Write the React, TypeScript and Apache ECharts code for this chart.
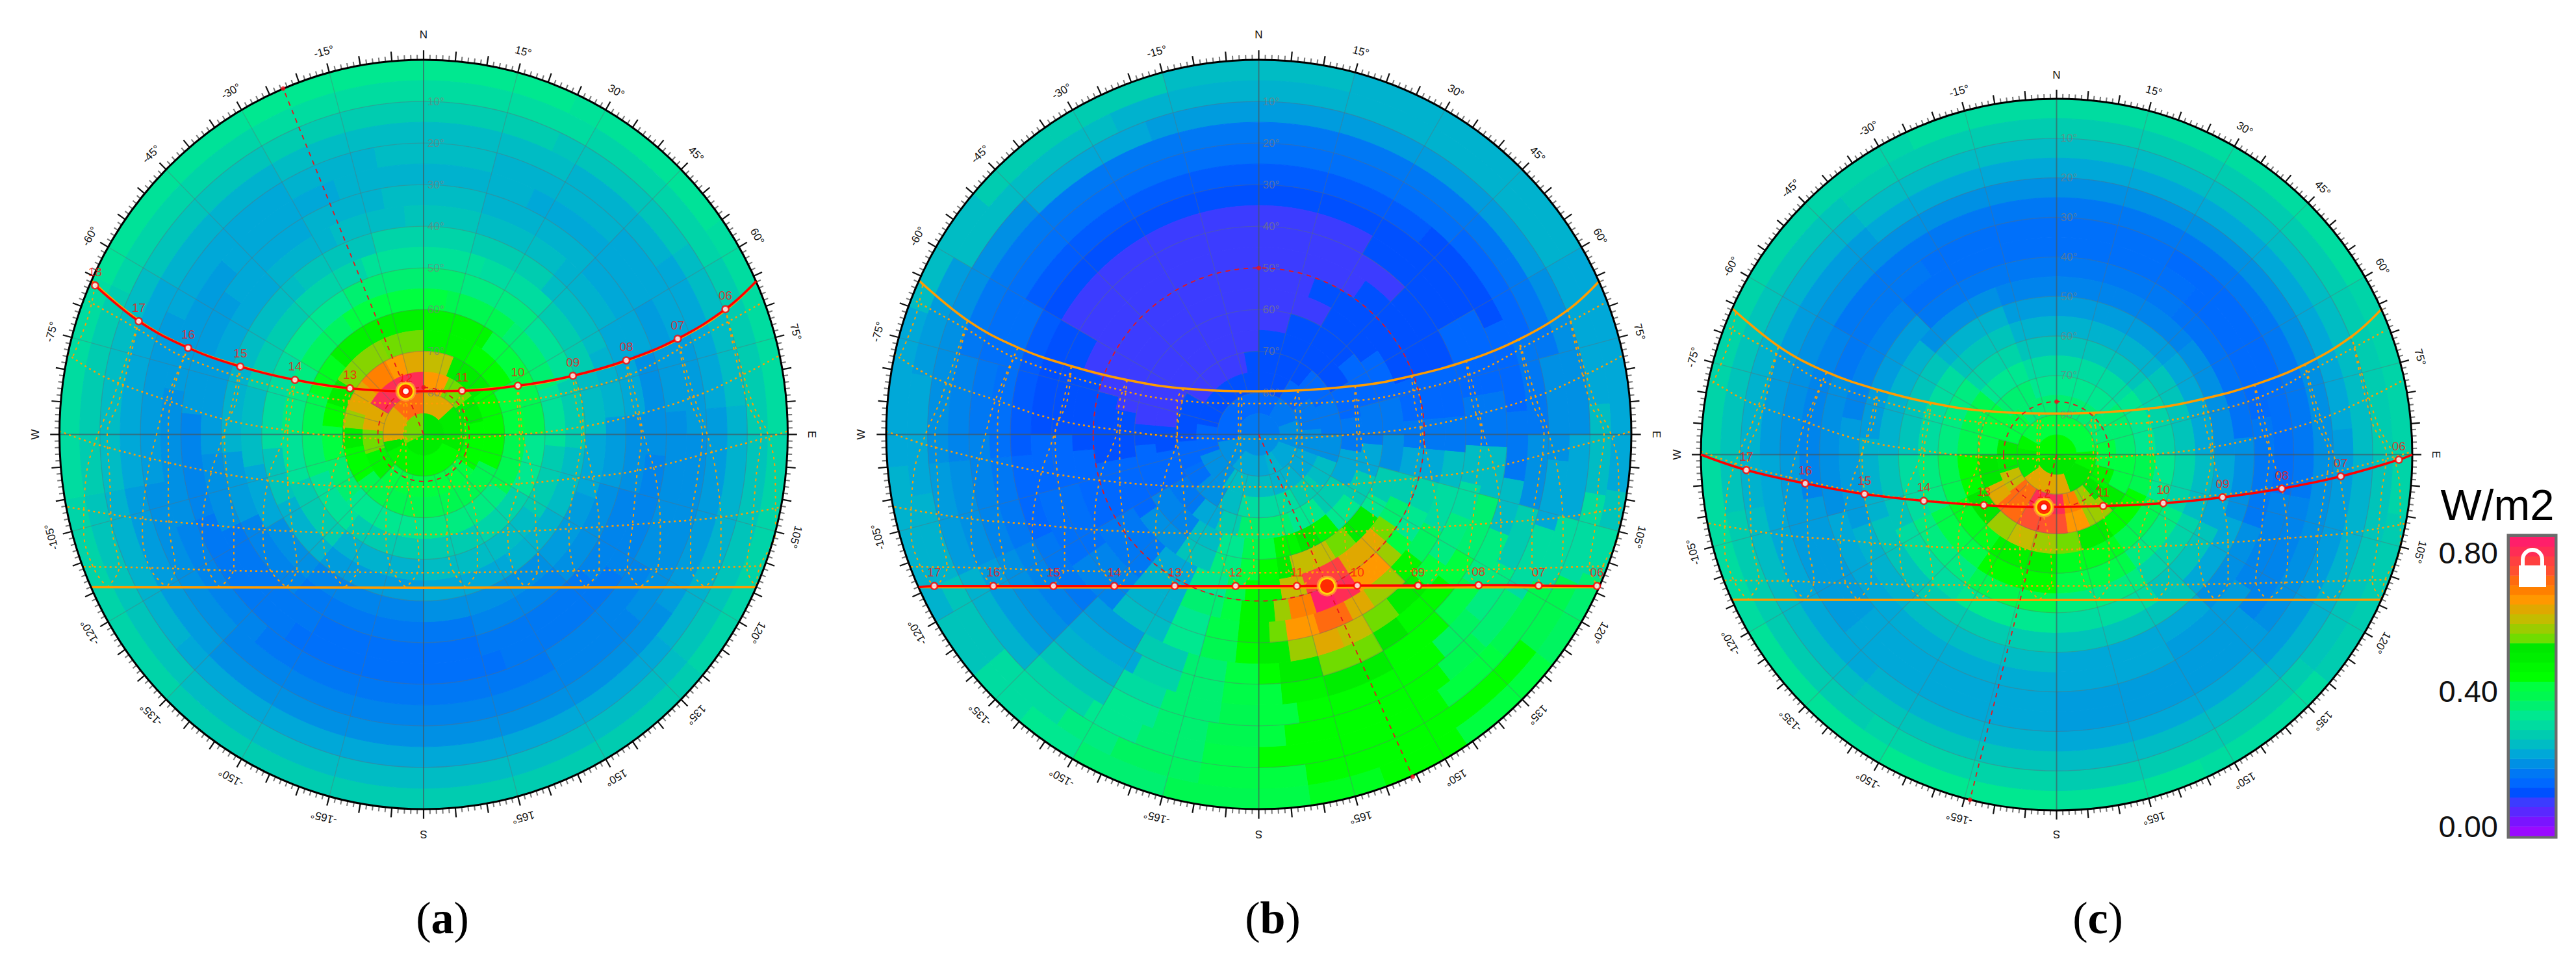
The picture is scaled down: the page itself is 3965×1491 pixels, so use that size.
import { useEffect, useRef } from 'react';
import * as echarts from 'echarts';

// colour scale of the W/m2 legend, bottom to top
const bandColors = ['#9a0aff', '#7a14ff', '#5a28ff', '#3c3cff', '#0050ff', '#0068ff', '#0078f4', '#0090e4', '#00a8d8', '#00bcc4', '#00ccb0', '#00dca0', '#00e890', '#00f070', '#00f850', '#00ff40', '#00ff00', '#00f800', '#00ee00', '#00e800', '#70dc00', '#9ccc00', '#c4bc00', '#e0a800', '#ff9800', '#ff8000', '#ff6a10', '#ff5030', '#ff4040', '#ff2d55', '#ff1f6a'];

type Run = [number, number]; // azimuth where the run starts, colour band (half steps allowed)

// one row per 5 degree altitude ring, from the horizon up
const heatA: Run[][] = [
  [[-180, 10], [-135, 10.5], [-100, 11], [-65, 11.5], [-30, 12], [25, 11.5], [55, 11], [90, 10.5], [130, 10]],
  [[-180, 9], [-135, 9.5], [-100, 10], [-65, 10.5], [-30, 11], [30, 10.5], [60, 10], [90, 9.5], [130, 9]],
  [[-180, 8], [-130, 8.5], [-100, 9], [-60, 9.5], [-30, 10], [25, 9.5], [55, 9], [85, 8.5], [130, 8]],
  [[-180, 7], [-135, 7.5], [-100, 8], [-60, 8.5], [-30, 9], [30, 8.5], [55, 8], [85, 7.5], [125, 7]],
  [[-180, 6.5], [-135, 7], [-100, 7.5], [-65, 8], [-30, 8.5], [-10, 9], [15, 8.5], [45, 8], [70, 7.5], [90, 7], [130, 6.5]],
  [[-180, 6], [-140, 6.5], [-110, 7], [-80, 7.5], [-50, 8], [-20, 8.5], [25, 8], [60, 7.5], [85, 7], [120, 6.5], [150, 6]],
  [[-180, 5.5], [-145, 6], [-110, 6.5], [-85, 7.5], [-55, 8], [-30, 8.5], [-10, 9], [15, 8.5], [45, 8], [70, 7], [95, 6.5], [125, 6], [160, 5.5]],
  [[-180, 5.5], [-150, 6], [-115, 7], [-95, 7.5], [-70, 8], [-45, 8.5], [-25, 9], [-5, 9.5], [15, 9], [40, 8.5], [60, 8], [85, 7], [105, 6.5], [130, 6], [165, 5.5]],
  [[-180, 6], [-140, 6.5], [-115, 7.5], [-95, 8.5], [-70, 9], [-40, 9.5], [-15, 10.5], [15, 10], [40, 9], [65, 8.5], [85, 7.5], [105, 7], [135, 6.5], [165, 6]],
  [[-180, 6.5], [-140, 7], [-120, 8], [-100, 9], [-75, 10], [-45, 10.5], [-20, 11.5], [20, 11], [45, 10], [70, 9], [90, 8], [110, 7.5], [135, 7]],
  [[-180, 7.5], [-140, 8.5], [-115, 9.5], [-95, 11], [-60, 12], [-30, 13], [15, 12.5], [45, 11.5], [70, 10], [95, 9], [120, 8.5], [145, 8]],
  [[-180, 8.5], [-140, 10], [-110, 11.5], [-90, 12.5], [-60, 13.5], [-35, 15], [10, 14], [40, 13], [70, 11.5], [95, 10], [125, 9]],
  [[-180, 10], [-140, 11.5], [-110, 13], [-90, 14], [-70, 15.5], [-50, 17.5], [0, 17], [35, 15], [65, 14], [90, 12], [120, 10.5], [150, 10]],
  [[-180, 12], [-130, 13], [-105, 15], [-85, 16], [-72, 18], [-58, 20.5], [-25, 20], [0, 17], [30, 16], [60, 15], [90, 14], [125, 12.5]],
  [[-180, 14], [-125, 16], [-100, 18], [-85, 21], [-72, 23], [-50, 25], [-28, 24], [-15, 23], [0, 22], [22, 18], [55, 16], [115, 14]],
  [[-180, 15], [-135, 17], [-108, 20], [-85, 23], [-60, 29], [0, 24], [25, 20], [52, 18], [78, 16], [125, 15]],
  [[-180, 17], [-115, 19], [-100, 23], [-48, 26], [0, 23], [48, 18], [115, 16]],
  [[-180, 18], [-115, 20], [0, 19], [100, 18]],
];

const heatB: Run[][] = [
  [[-180, 14], [-165, 13], [-150, 12], [-140, 11], [-130, 9.5], [-120, 8.5], [-95, 8], [-70, 9], [-50, 10], [-35, 10], [-15, 9], [15, 8.5], [60, 8], [90, 8], [99, 9.5], [105, 11], [113, 13], [120, 13.5], [128, 15], [146, 16], [160, 15.5], [172, 14.5]],
  [[-180, 14.5], [-170, 13.5], [-155, 12.5], [-145, 11], [-130, 9.5], [-115, 8.5], [-100, 8], [-80, 7.5], [-60, 9], [-25, 8.5], [60, 8], [85, 9], [100, 11], [115, 14], [128, 16], [172, 15]],
  [[-180, 14.5], [-170, 13], [-158, 12], [-148, 10.5], [-135, 8.5], [-115, 7.5], [-95, 7], [-45, 8], [-20, 7.5], [60, 7], [90, 8], [105, 11], [118, 14], [132, 15], [145, 16]],
  [[-180, 14], [-170, 13], [-160, 12], [-150, 9.5], [-135, 7.5], [-115, 7], [-95, 6.5], [-75, 6], [55, 6], [75, 7], [95, 8], [108, 11], [122, 13], [133, 14], [142, 16], [175, 15]],
  [[-180, 14], [-172, 13], [-160, 11], [-150, 8.5], [-135, 7], [-115, 6.5], [-90, 6], [-75, 5.5], [45, 5], [70, 6], [90, 7], [105, 10], [118, 12.5], [130, 13.5], [140, 16], [172, 15]],
  [[-180, 14.5], [-172, 13], [-162, 10.5], [-152, 8], [-135, 6.5], [-115, 6], [-95, 5.5], [-60, 4.5], [40, 4], [65, 5], [85, 6], [100, 9], [112, 12.5], [125, 14.5], [135, 16], [150, 18], [165, 17], [175, 15]],
  [[-180, 15], [-172, 13], [-162, 10], [-150, 7.5], [-135, 6], [-115, 5], [-95, 4.5], [-60, 4], [60, 5], [80, 6], [93, 9], [105, 13], [120, 15], [128, 16.5], [143, 19], [150, 20], [165, 18], [175, 16]],
  [[-180, 16], [-174, 14], [-165, 12], [-155, 9], [-140, 6.5], [-125, 5.5], [-105, 5], [-90, 4], [-60, 3], [30, 4], [60, 5], [80, 6], [93, 9], [103, 11], [112, 12.5], [125, 15], [132, 18], [142, 20], [150, 22], [158, 23], [165, 21], [172, 18]],
  [[-180, 17], [-174, 14.5], [-165, 12], [-155, 8.5], [-140, 6.5], [-125, 5.5], [-105, 5], [-90, 4], [-60, 3], [30, 3], [45, 4], [70, 5], [85, 6], [95, 9], [105, 11], [118, 13.5], [128, 17], [135, 21], [146, 23], [153, 26], [163, 24], [172, 20], [177, 18]],
  [[-180, 17], [-174, 15], [-168, 13], [-155, 8.5], [-140, 6], [-120, 5], [-95, 4], [-70, 3], [35, 4], [70, 5], [85, 6], [95, 8], [105, 10.5], [115, 12], [125, 15], [130, 21], [135, 24], [147, 29], [155, 30], [162, 25], [170, 21], [175, 18]],
  [[-180, 16], [-175, 14], [-168, 12], [-155, 8], [-140, 6], [-120, 5], [-100, 4], [-75, 3], [20, 4], [70, 5], [85, 6], [95, 8], [105, 10], [115, 13], [124, 20], [130, 23], [147, 28], [163, 22], [172, 17]],
  [[-180, 15], [-172, 12.5], [-160, 9.5], [-145, 7], [-125, 5], [-100, 4], [-80, 3], [30, 4], [55, 5], [75, 6], [90, 7], [105, 10], [118, 12], [125, 18], [138, 20], [148, 22], [166, 18], [172, 16]],
  [[-180, 14], [-172, 12], [-160, 9], [-145, 6.5], [-120, 5], [-95, 4], [-85, 3], [15, 4], [50, 5], [75, 6], [95, 8], [110, 10], [125, 12], [140, 17], [150, 19], [160, 17], [172, 15]],
  [[-180, 13], [-168, 10], [-155, 8], [-140, 6], [-120, 5], [-100, 4], [-85, 3], [0, 4], [60, 5], [80, 6], [100, 8], [120, 10], [140, 12], [160, 13]],
  [[-180, 11], [-165, 9], [-150, 7], [-130, 5.5], [-115, 5], [-95, 4], [-60, 3], [-10, 4], [40, 5], [65, 6], [90, 7], [110, 9], [130, 10], [150, 11]],
  [[-180, 9], [-145, 7], [-110, 5], [-80, 4], [30, 5], [55, 6], [85, 7], [110, 8], [135, 8.5], [165, 9]],
  [[-180, 8], [-140, 7], [-100, 5], [30, 6], [70, 7], [110, 8], [145, 8.5], [165, 8]],
  [[-180, 7], [-90, 6], [90, 7]],
];

const heatC: Run[][] = [
  [[-180, 12], [-150, 11.5], [-120, 11], [-90, 10.5], [-25, 11], [25, 11], [60, 10.5], [100, 10], [130, 11], [155, 11.5]],
  [[-180, 10.5], [-145, 10], [-100, 9.5], [-40, 10], [90, 9.5], [130, 10]],
  [[-180, 9.5], [-140, 9], [-100, 8.5], [-40, 9], [90, 8.5], [135, 9]],
  [[-180, 8.5], [-140, 8], [-90, 7.5], [-40, 8], [85, 7.5], [135, 8]],
  [[-180, 8], [-130, 7.5], [-90, 7], [90, 7], [130, 7.5]],
  [[-180, 8], [-130, 7.5], [-100, 6.5], [-60, 6], [55, 6], [100, 6.5], [130, 7.5]],
  [[-180, 8.2], [-135, 8], [-105, 7], [-70, 6], [-35, 5.5], [30, 5.2], [70, 5.5], [100, 6.5], [125, 7.5], [150, 8]],
  [[-180, 9], [-135, 8.5], [-110, 7.5], [-80, 6.5], [-45, 5.5], [40, 5.2], [80, 6], [110, 7], [135, 8]],
  [[-180, 10], [-135, 9.5], [-110, 8.5], [-85, 7.5], [-45, 6], [40, 5.7], [85, 7], [110, 8], [135, 9.5]],
  [[-180, 12], [-145, 11], [-115, 9.5], [-90, 8.5], [-50, 7], [-20, 6.5], [20, 6.5], [50, 7], [90, 8], [115, 9.5], [145, 11]],
  [[-180, 14], [-145, 12.5], [-115, 11], [-90, 9.5], [-50, 8.5], [-20, 7.5], [20, 7.5], [50, 8], [90, 9], [115, 10.5], [145, 12.5]],
  [[-180, 16], [-145, 14.5], [-115, 12.5], [-90, 11], [-50, 9.5], [-20, 8.5], [20, 8.5], [50, 9.5], [90, 10.5], [115, 12.5], [145, 14.5]],
  [[-180, 17.5], [-145, 15.5], [-115, 14], [-90, 12.5], [-50, 10.5], [-20, 9.5], [20, 9.5], [50, 10.5], [90, 12], [115, 14], [145, 15.5]],
  [[-180, 21], [-165, 22], [-150, 21], [-135, 19], [-115, 16], [-90, 14], [-50, 12], [-20, 11], [20, 11], [50, 12], [90, 14], [115, 16], [145, 18], [165, 20]],
  [[-180, 27], [-150, 26], [-130, 23], [-115, 19], [-90, 15], [-50, 13], [-20, 12], [20, 12], [50, 13], [90, 15], [120, 18], [135, 21], [155, 24], [172, 27]],
  [[-180, 29], [-150, 26], [-128, 22], [-108, 18], [-75, 15], [-40, 13], [40, 13], [75, 15], [105, 17], [125, 19], [140, 21], [155, 25], [172, 29]],
  [[-180, 23], [-125, 18], [-80, 17], [-60, 15], [60, 15], [85, 17], [115, 19], [160, 23]],
  [[-180, 19], [-100, 16.5], [100, 19]],
];

// sky positions are east/north offsets in degrees from the zenith
const highHours = ['18', '17', '16', '15', '14', '13', '12', '11', '10', '09', '08', '07', '06'];
const sunPathA = [[-81.2, 35.8], [-70.4, 27.2], [-58.2, 20.8], [-45.3, 16.3], [-31.8, 13.1], [-18.2, 11.1], [-4.4, 10.4], [9.5, 10.5], [23.3, 11.7], [36.9, 14.1], [50.1, 17.8], [62.8, 23.0], [74.6, 30.1]];
const lowHours = ['17', '16', '15', '14', '13', '12', '11', '10', '09', '08', '07', '06'];
const sunPathB = [[-78.4, -36.4], [-64.1, -36.4], [-49.6, -36.4], [-34.9, -36.4], [-20.3, -36.4], [-5.6, -36.4], [9.2, -36.4], [23.8, -36.3], [38.5, -36.3], [53.1, -36.2], [67.6, -36.3], [81.7, -36.4]];
const sunPathC = [[-78.5, -3.9], [-63.6, -7.3], [-48.6, -10], [-33.6, -11.7], [-18.4, -12.8], [-3.2, -13.3], [11.8, -13], [27, -12.3], [42, -10.8], [57, -8.6], [71.9, -5.5], [86.6, -1.3]];
const sunA = [-4.4, 10.4];
const sunB = [16.5, -36.4];
const sunC = [-3.2, -13.3];

const highArc = [[-82.1, 37], [-70.2, 27.3], [-58, 20.8], [-45.2, 16.4], [-31.9, 13.1], [-18.6, 11.1], [0, 10.4], [23.8, 11.7], [37.1, 14.1], [50.5, 17.8], [63.2, 23], [74.8, 30], [82.4, 37]];
const lowArc = [[-82.3, -36.7], [0, -36.8], [82.3, -36.7]];
const dateArcs = [
  [[-82.8, 32], [-70.6, 25.3], [-59, 18.5], [-33.6, 10.7], [-18.5, 8.1], [0, 7.4], [23.2, 8.1], [38.2, 10.7], [52.1, 14.8], [66, 22.1], [83.4, 31.5]],
  [[-88, 19.3], [-78.8, 13.8], [-63.1, 8.1], [-49.2, 3.6], [-33.6, 1], [-16.2, -0.8], [0, -1.1], [23.2, 0], [38.8, 1.8], [53.3, 4.9], [68.3, 9.6], [81.1, 15.4], [88, 19]],
  [[-90, 0.8], [-81, -2.3], [-64.3, -6.5], [-48.6, -9.6], [-33.6, -11.5], [-16.2, -12.5], [0, -12.6], [20.8, -12], [38.8, -10.4], [53.3, -8.6], [70.6, -4.4], [85.7, -0.5], [90, 0.8]],
  [[-88, -17.4], [-69.5, -20.3], [-54.4, -21.6], [-39.4, -22.9], [-16.2, -23.8], [0, -24], [20.8, -23.4], [40.5, -22.4], [59, -21.1], [74.1, -19.8], [88.6, -17.4]],
  [[-84, -31.8], [-68.3, -32], [-47.5, -32.7], [-16.2, -33.1], [0, -33.2], [35.9, -32.8], [59, -32.3], [84.5, -31.6]],
];

// hour loops: x of both strands at each of these sky heights, hours 17 to 06
const loopHeights = [8, 0, -10, -23, -32];
const loopLeft = [
  [-77, -80.5, -83.4, -84, -81.6],
  [-63.7, -66, -68.3, -69.5, -67.7],
  [-47.2, -49.4, -52.7, -54.7, -53.5],
  [-33.6, -34.4, -38.2, -39.7, -38.2],
  [-19.7, -19.7, -22.6, -24.9, -23.2],
  [-4.9, -4.9, -8.1, -9.3, -8.1],
  [8.7, 9.3, 6.9, 5.8, 6.9],
  [23.2, 23.7, 23.7, 20.8, 22],
  [37.6, 39.1, 37.6, 35.9, 37.1],
  [51.5, 53.8, 52.7, 51.5, 50.4],
  [66, 68.9, 67.7, 66, 66],
  [79.9, 83.4, 82.2, 81.1, 79.9],
];
const loopRight = [
  [-75.3, -78.2, -77.6, -77, -75.3],
  [-62.5, -63.1, -63.1, -62.8, -61.4],
  [-46.3, -49.2, -48.6, -46.9, -46.9],
  [-32.4, -33.6, -33.6, -32.4, -31.3],
  [-18.5, -19.7, -18.5, -17.4, -16.2],
  [-4.1, -4.4, -4.1, -1.7, -1.2],
  [9.8, 10.4, 10.7, 13.3, 13.3],
  [23.7, 24.5, 26.9, 27.8, 28.4],
  [39.1, 39.6, 41.7, 43.4, 43.4],
  [52.7, 54.4, 57.3, 58.5, 57.9],
  [67.2, 70.1, 72.4, 73.5, 73],
  [81.1, 85.1, 86.9, 87, 83],
];
const loopTips = [-78.2, -63.5, -50.4, -33.9, -19.5, -4.4, 10.4, 25.1, 40, 53.3, 69.5, 82.2];
const hourEighteen = [[-81.2, 35.8], [-83, 28], [-87, 18]];

const altitudeLabels = [10, 20, 30, 40, 50, 60, 70, 80];
const azimuthLabels = [-165, -150, -135, -120, -105, -75, -60, -45, -30, -15, 15, 30, 45, 60, 75, 105, 120, 135, 150, 165];
const compassLabels: [number, string][] = [[0, 'N'], [90, 'E'], [180, 'S'], [-90, 'W']];
const radialLines = [-165, -150, -135, -120, -105, -75, -60, -45, -30, -15, 15, 30, 45, 60, 75, 105, 120, 135, 150, 165];

const sansFont = '"Liberation Sans"';
const rad = (d: number) => (d * Math.PI) / 180;
const sky = (r: number, az: number) => [r * Math.sin(rad(az)), r * Math.cos(rad(az))];

// band values may be fractional, they then sit between two legend colours
const bandColor = (band: number) => {
  const low = Math.floor(band);
  const high = Math.min(low + 1, bandColors.length - 1);
  const t = band - low;
  const part = (c: string, k: number) => parseInt(c.slice(k, k + 2), 16);
  const mix = [1, 3, 5].map((k) => Math.round(part(bandColors[low], k) * (1 - t) + part(bandColors[high], k) * t));
  return `rgb(${mix.join(',')})`;
};

const toCells = (rings: Run[][]) =>
  rings.flatMap((runs, i) => runs.map(([az, band], j) => [i * 5, az, j + 1 < runs.length ? runs[j + 1][0] : 180, band]));

const domeSeries = (index: number, heat: Run[][], hours: string[], path: number[][], redLine: number[][], sun: number[], sunWhite: boolean, circleR: number, rimPoint: number[]) => {
  const axes = { xAxisIndex: index, yAxisIndex: index, silent: true };
  const line = (data: number[][], color: string, width: number, dash: any, z: number, smooth: number) => ({
    ...axes, type: 'line', data, z, smooth, showSymbol: false, symbol: 'none', clip: false,
    lineStyle: { color, width, type: dash },
  });
  const series: any[] = [];
  // sky patches
  series.push({
    ...axes, type: 'custom', z: 1, data: toCells(heat),
    renderItem: (_: any, api: any) => {
      const alt = api.value(0), az0 = api.value(1), az1 = api.value(2), color = bandColor(api.value(3));
      const outer = 90 - alt, inner = 85 - alt;
      const points: number[][] = [];
      for (let a = az0; a < az1; a += 2) points.push(api.coord(sky(outer, a)));
      points.push(api.coord(sky(outer, az1)));
      for (let a = az1; a > az0; a -= 2) points.push(api.coord(sky(inner, a)));
      points.push(api.coord(sky(inner, az0)));
      return { type: 'polygon', shape: { points }, style: { fill: color, stroke: color, lineWidth: 1 } };
    },
  });
  // altitude rings
  const ellipse = (z: number, data: number[][], stroke: string, lineWidth: number, dash?: number[]) => ({
    ...axes, type: 'custom', z, data,
    renderItem: (_: any, api: any) => {
      const r = api.value(0);
      const c = api.coord([0, 0]), e = api.coord([r, 0]), n = api.coord([0, r]);
      return {
        type: 'ellipse',
        shape: { cx: c[0], cy: c[1], rx: e[0] - c[0], ry: c[1] - n[1] },
        style: { fill: 'none', stroke, lineWidth, lineDash: dash },
      };
    },
  });
  series.push(ellipse(2, altitudeLabels.map((a) => [90 - a]), 'rgba(95,110,115,0.4)', 1.3));
  // radial lines and the two main axes
  series.push({
    ...axes, type: 'custom', z: 2, data: radialLines.map((a) => [a]),
    renderItem: (_: any, api: any) => {
      const a = api.coord(sky(10, api.value(0))), b = api.coord(sky(90, api.value(0)));
      return { type: 'line', shape: { x1: a[0], y1: a[1], x2: b[0], y2: b[1] }, style: { stroke: 'rgba(95,110,115,0.4)', lineWidth: 1.3 } };
    },
  });
  series.push(line([[-90, 0], [90, 0]], 'rgba(70,85,90,0.65)', 2, 'solid', 2, 0));
  series.push(line([[0, -90], [0, 90]], 'rgba(70,85,90,0.65)', 2, 'solid', 2, 0));
  // altitude labels
  series.push({
    ...axes, type: 'custom', z: 3, data: altitudeLabels.map((a) => [a]),
    renderItem: (_: any, api: any) => {
      const p = api.coord([0, 90 - api.value(0)]);
      return { type: 'text', x: p[0] + 6, y: p[1], style: { text: `${api.value(0)}°`, fill: 'rgba(125,125,125,0.7)', font: `17px ${sansFont}`, textAlign: 'left', verticalAlign: 'middle', textVerticalAlign: 'middle' } };
    },
  });
  // dotted sun chart
  dateArcs.forEach((arc) => series.push(line(arc, '#ff9c00', 2.5, [3, 5], 4, 0.4)));
  loopTips.forEach((tip, i) => {
    const top = sunPathA[i + 1];
    const strand = (xs: number[]) => [top, ...xs.map((x, k) => [x, loopHeights[k]]), [tip, -36.7]];
    series.push(line(strand(loopLeft[i]), '#ff9c00', 2, [4, 6], 4, 0.4));
    series.push(line(strand(loopRight[i]), '#ff9c00', 2, [4, 6], 4, 0.4));
  });
  series.push(line(hourEighteen, '#ff9c00', 2, [4, 6], 4, 0.4));
  series.push(line(highArc, '#ff9c00', 3.5, 'solid', 5, 0.4));
  series.push(line(lowArc, '#ff9c00', 3.5, 'solid', 5, 0));
  // rim with its degree ticks
  series.push(ellipse(6, [[90]], '#000000', 3));
  const degrees: number[][] = [];
  for (let d = -179; d <= 180; d++) degrees.push([d]);
  series.push({
    ...axes, type: 'custom', z: 5, data: degrees,
    renderItem: (_: any, api: any) => {
      const d = api.value(0);
      const major = d % 5 === 0;
      const a = api.coord(sky(90, d)), b = api.coord(sky(major ? 92.3 : 91.2, d));
      return { type: 'line', shape: { x1: a[0], y1: a[1], x2: b[0], y2: b[1] }, style: { stroke: major ? '#111111' : '#777777', lineWidth: major ? 2.2 : 2 } };
    },
  });
  series.push({
    ...axes, type: 'custom', z: 6, data: azimuthLabels.map((a) => [a]),
    renderItem: (_: any, api: any) => {
      const a = api.value(0);
      const p = api.coord(sky(95.2, a));
      return { type: 'text', x: p[0], y: p[1], rotation: -rad(a), style: { text: `${a}°`, fill: '#111111', font: `17px ${sansFont}`, textAlign: 'center', verticalAlign: 'middle', textVerticalAlign: 'middle' } };
    },
  });
  series.push({
    ...axes, type: 'custom', z: 6, data: compassLabels.map((c) => [c[0]]),
    renderItem: (params: any, api: any) => {
      const a = api.value(0);
      const p = api.coord(sky(96, a));
      return { type: 'text', x: p[0], y: p[1], rotation: -rad(a), style: { text: compassLabels[params.dataIndex][1], fill: '#111111', font: `17px ${sansFont}`, textAlign: 'center', verticalAlign: 'middle', textVerticalAlign: 'middle' } };
    },
  });
  // sun's day path and its noon circle
  series.push(ellipse(7, [[circleR]], '#e8141e', 1.8, [7, 7]));
  series.push(line([[0, 0], rimPoint], '#e8141e', 1.8, [7, 7], 7, 0));
  series.push({
    ...axes, type: 'scatter', z: 7, symbolSize: 7, data: [[0, circleR], rimPoint],
    itemStyle: { color: '#f01018' }, clip: false,
  });
  series.push(line(redLine, '#ff0000', 3.5, 'solid', 8, 0.4));
  [[32, '#ffa030'], [27, '#ffee00'], [21, '#ff0000']].forEach(([size, color]) => {
    series.push({ ...axes, type: 'scatter', z: 9, symbolSize: size, data: [sun], itemStyle: { color }, clip: false });
  });
  series.push({
    ...axes, type: 'scatter', z: 10, symbolSize: 10, clip: false,
    data: path.map((p, i) => ({ value: p, name: hours[i] })),
    itemStyle: { color: '#ffffff', borderColor: '#ff0000', borderWidth: 2.5 },
    label: { show: true, position: 'top', distance: 5, formatter: '{b}', color: '#ff1010', fontSize: 19, fontFamily: sansFont },
  });
  if (sunWhite) {
    series.push({ ...axes, type: 'scatter', z: 11, symbolSize: 9, data: [sun], itemStyle: { color: '#ffffff' }, clip: false });
  }
  return series;
};

const caption = (x: number, letter: string) => ({
  type: 'text', x, y: 1412,
  style: {
    text: `({b|${letter}})`, fill: '#000000', font: '70px "Liberation Serif"', textAlign: 'center', verticalAlign: 'middle',
    rich: { b: { font: 'bold 70px "Liberation Serif"', fill: '#000000' } },
  },
});
const legendText = (y: number, text: string) => ({
  type: 'text', x: 3845, y,
  style: { text, fill: '#111111', font: `47px ${sansFont}`, textAlign: 'right', verticalAlign: 'middle' },
});

const App = () => {
  const chartRef = useRef<HTMLDivElement | null>(null);
  useEffect(() => {
    if (!chartRef.current) return;
    const chart = echarts.init(chartRef.current, undefined, { renderer: 'svg' });
    const domes = [
      { left: 91.5, top: 92, width: 1121, height: 1153 },
      { left: 1364, top: 92, width: 1147, height: 1153 },
      { left: 2618, top: 152, width: 1095, height: 1095 },
    ];
    const axis = (gridIndex: number, min: number, max: number) => ({ type: 'value', gridIndex, min, max, show: false });
    const scaleSeries = {
      type: 'custom', xAxisIndex: 3, yAxisIndex: 3, silent: true, z: 2,
      data: bandColors.map((_, i) => [0.5, i]),
      renderItem: (_: any, api: any) => {
        const a = api.coord([0, api.value(1)]), b = api.coord([1, api.value(1) + 1]);
        return { type: 'rect', shape: { x: a[0], y: b[1], width: b[0] - a[0], height: a[1] - b[1] + 0.5 }, style: { fill: bandColors[api.value(1)] } };
      },
    };
    const option = {
      animation: false,
      backgroundColor: '#ffffff',
      grid: [...domes, { left: 3863, top: 826, width: 69, height: 460 }].map((g) => ({ ...g, containLabel: false, show: false })),
      xAxis: [axis(0, -90, 90), axis(1, -90, 90), axis(2, -90, 90), axis(3, 0, 1)],
      yAxis: [axis(0, -90, 90), axis(1, -90, 90), axis(2, -90, 90), axis(3, 0, 31)],
      graphic: {
        elements: [
          caption(681, 'a'),
          caption(1959, 'b'),
          caption(3229, 'c'),
          { type: 'text', x: 3844, y: 776, style: { text: 'W/m2', fill: '#000000', font: `67px ${sansFont}`, textAlign: 'center', verticalAlign: 'middle' } },
          legendText(850, '0.80'),
          legendText(1063, '0.40'),
          legendText(1271, '0.00'),
          { type: 'rect', shape: { x: 3861, y: 824, width: 73, height: 464 }, style: { fill: 'none', stroke: '#6b6b6b', lineWidth: 5 } },
          { type: 'rect', z: 100, shape: { x: 3877, y: 870, width: 42, height: 33 }, style: { fill: '#ffffff' } },
          { type: 'rect', z: 100, shape: { x: 3880, y: 860, width: 6, height: 12 }, style: { fill: '#ffffff' } },
          { type: 'rect', z: 100, shape: { x: 3910, y: 860, width: 6, height: 12 }, style: { fill: '#ffffff' } },
          { type: 'arc', z: 100, shape: { cx: 3898, cy: 861, r: 15, startAngle: Math.PI, endAngle: 2 * Math.PI }, style: { fill: 'none', stroke: '#ffffff', lineWidth: 6 } },
        ],
      },
      series: [
        ...domeSeries(0, heatA, highHours, sunPathA, [...sunPathA, [82.2, 36.8]], sunA, true, 11.3, [-34.7, 83.1]),
        ...domeSeries(1, heatB, lowHours, sunPathB, [[-82.1, -36.7], ...sunPathB], sunB, false, 40, [37.2, -82.2]),
        ...domeSeries(2, heatC, lowHours, sunPathC, [[-90, 0], ...sunPathC, [90, 0]], sunC, true, 13.4, [-21.9, -87.3]),
        scaleSeries,
      ],
    };
    chart.setOption(option as any);
    return () => chart.dispose();
  }, []);
  return <div ref={chartRef} style={{ position: 'fixed', left: 0, top: 0, width: 3965, height: 1491 }} />;
};

export default App;
